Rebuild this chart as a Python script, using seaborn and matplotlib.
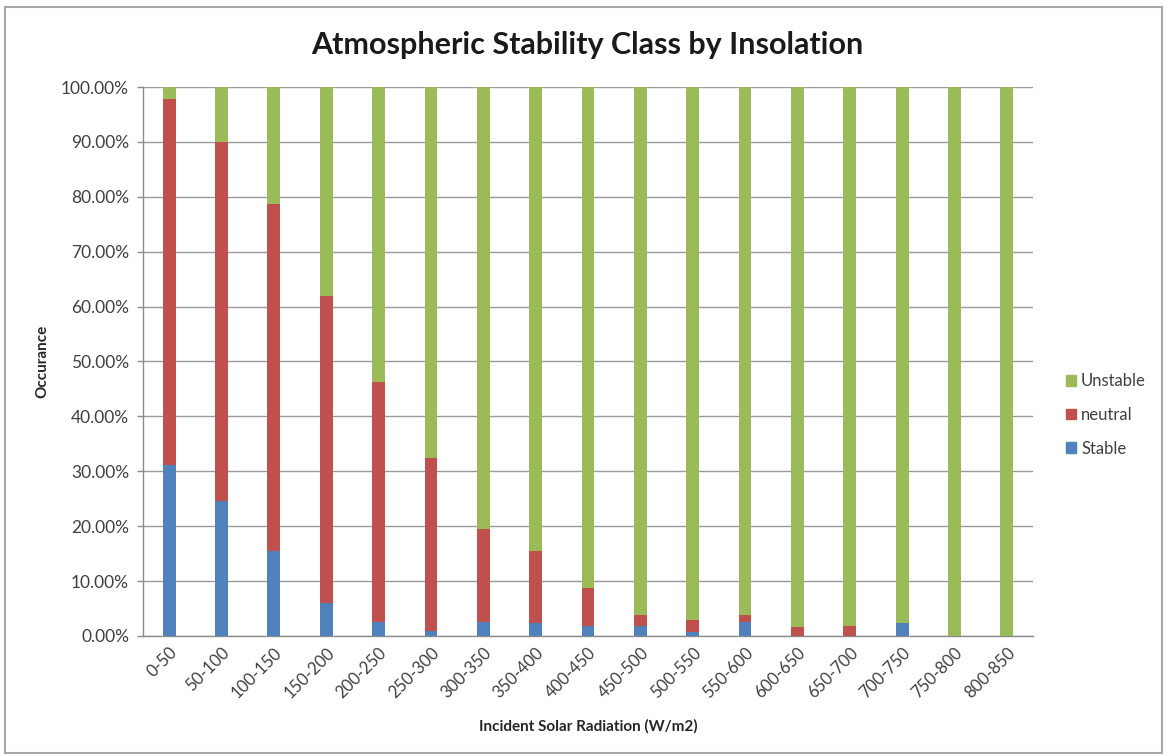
import matplotlib
matplotlib.use("Agg")
import matplotlib.pyplot as plt
import matplotlib.patches as mpatches
from matplotlib.ticker import PercentFormatter, MultipleLocator
import seaborn as sns
import numpy as np

categories = ["0-50", "50-100", "100-150", "150-200", "200-250", "250-300", "300-350",
              "350-400", "400-450", "450-500", "500-550", "550-600", "600-650", "650-700",
              "700-750", "750-800", "800-850"]
stable = [0.311, 0.245, 0.154, 0.060, 0.026, 0.010, 0.026, 0.023, 0.018, 0.018, 0.007,
          0.026, 0.0, 0.0, 0.023, 0.0, 0.0]
neutral = [0.667, 0.655, 0.632, 0.560, 0.437, 0.315, 0.168, 0.131, 0.070, 0.020, 0.022,
           0.012, 0.016, 0.018, 0.0, 0.0, 0.0]
unstable = [0.022, 0.100, 0.214, 0.380, 0.537, 0.675, 0.806, 0.846, 0.912, 0.962, 0.971,
            0.962, 0.984, 0.982, 0.977, 1.0, 1.0]

c_stable = "#4F81BD"
c_neutral = "#C0504D"
c_unstable = "#9BBB59"

sns.set_theme(style="white")
plt.rcParams["font.family"] = ["Lato", "DejaVu Sans"]

fig = plt.figure(figsize=(11.69, 7.56), dpi=100)
fig.patch.set_facecolor("white")
ax = fig.add_axes([143 / 1169, 1 - 636 / 756, (1033 - 143) / 1169, (636 - 87) / 756])

cum1 = np.array(stable)
cum2 = cum1 + np.array(neutral)
cum3 = cum2 + np.array(unstable)

for vals, col in [(cum3, c_unstable), (cum2, c_neutral), (cum1, c_stable)]:
    sns.barplot(x=categories, y=vals, order=categories, color=col, width=0.245,
                saturation=1, errorbar=None, ax=ax, zorder=3, linewidth=0)

ax.set_xlim(-0.5, len(categories) - 0.5)
ax.set_ylim(0, 1.0)
ax.yaxis.set_major_locator(MultipleLocator(0.1))
ax.yaxis.set_major_formatter(PercentFormatter(1.0, decimals=2))
ax.grid(axis="y", color="#9a9a9a", linewidth=1.0, zorder=0)
ax.set_axisbelow(True)

for s in ["top", "right"]:
    ax.spines[s].set_visible(False)
for s in ["left", "bottom"]:
    ax.spines[s].set_color("#8c8c8c")
    ax.spines[s].set_linewidth(1.0)

ax.tick_params(axis="y", which="major", length=4, color="#8c8c8c", width=1,
               labelsize=12.5, labelcolor="#404040", pad=6, left=True)
ax.tick_params(axis="x", length=0, labelsize=12, labelcolor="#404040", pad=6)
for lab in ax.get_xticklabels():
    lab.set_rotation(45)
    lab.set_ha("right")
    lab.set_rotation_mode("anchor")

ax.set_xlabel("Incident Solar Radiation (W/m2)", fontsize=11, fontweight="bold",
              color="#262626")
ax.xaxis.set_label_coords((588 - 143) / (1033 - 143), -(719 - 636) / (636 - 87))
ax.set_ylabel("Occurance", fontsize=11, fontweight="bold", color="#262626")
ax.yaxis.set_label_coords(-(143 - 49) / (1033 - 143), 0.5)

fig.text(587 / 1169, 1 - 45 / 756, "Atmospheric Stability Class by Insolation",
         ha="center", va="center", fontsize=22, fontweight="bold", color="#1a1a1a")

handles = [mpatches.Patch(color=c_unstable, label="Unstable"),
           mpatches.Patch(color=c_neutral, label="neutral"),
           mpatches.Patch(color=c_stable, label="Stable")]
leg = ax.legend(handles=handles, loc="center left",
                bbox_to_anchor=(1051 / 1169, 1 - 415 / 756), bbox_transform=fig.transFigure,
                frameon=False, fontsize=12, handlelength=0.6, handleheight=0.6,
                handletextpad=0.3, labelspacing=1.05)
for t in leg.get_texts():
    t.set_color("#404040")

frame = mpatches.Rectangle((5 / 1169, 3 / 756), 1157 / 1169, 746 / 756,
                           transform=fig.transFigure, fill=False,
                           edgecolor="#a6a6a6", linewidth=1.5, zorder=10)
fig.patches.append(frame)

fig.savefig("out.png", dpi=100)
